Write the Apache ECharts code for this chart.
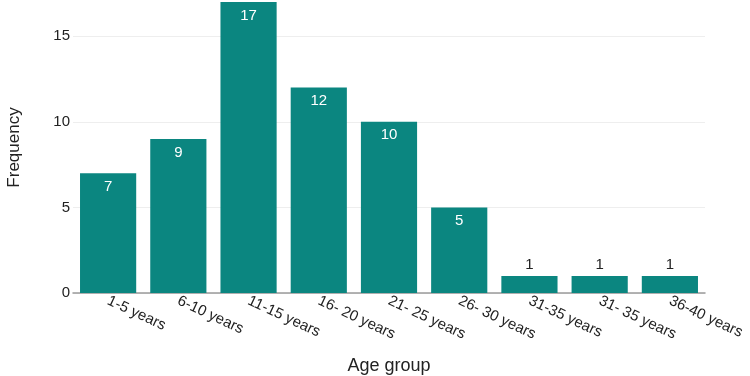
<!DOCTYPE html>
<html>
<head>
<meta charset="utf-8">
<script src="https://cdn.jsdelivr.net/npm/echarts@6/dist/echarts.min.js"></script>
<style>
  html, body {margin: 0; padding: 0; background: #fff;}
  #chart {width: 750px; height: 376px;}
</style>
</head>
<body>
<div id="chart"></div>
<script>
const ageGroups = ["1-5 years", "6-10 years", "11-15 years", "16- 20 years", "21- 25 years",
  "26- 30 years", "31-35 years", "31- 35 years", "36-40 years"];
const frequency = [7, 9, 17, 12, 10, 5, 1, 1, 1];
const yTicks = [0, 5, 10, 15];

const BAR_COLOR = "#0b8680";
const FONT = "Liberation Sans, Arial, sans-serif";

const chart = echarts.init(document.getElementById("chart"), null, {renderer: "canvas"});

// small bars get their label above, the rest inside near the top
const barData = frequency.map(v => ({
  value: v,
  label: v < 3
    ? {position: "top", color: "#222", distance: 4}
    : {position: "insideTop", color: "#fff", distance: 6},
}));

chart.setOption({
  animation: false,
  textStyle: {fontFamily: FONT},
  grid: {left: 73, right: 45, top: 2, bottom: 83, containLabel: false, outerBoundsMode: "none"},
  xAxis: {
    type: "category",
    data: ageGroups,
    name: "Age group",
    nameLocation: "middle",
    nameGap: 64,
    nameTextStyle: {fontSize: 18, color: "#222", fontFamily: FONT},
    axisLine: {lineStyle: {color: "#9a9a9a", width: 1.5}},
    axisTick: {show: false},
    axisLabel: {
      rotate: -25,
      interval: 0,
      margin: 7,
      fontSize: 15,
      color: "#222",
      fontFamily: FONT,
    },
  },
  yAxis: {
    type: "value",
    min: yTicks[0],
    max: 17,
    interval: yTicks[1] - yTicks[0],
    name: "Frequency",
    nameLocation: "middle",
    nameGap: 50,
    nameTextStyle: {fontSize: 17, color: "#222", fontFamily: FONT},
    axisLine: {show: false},
    axisTick: {show: false},
    axisLabel: {
      fontSize: 15,
      color: "#222",
      margin: 3,
      showMaxLabel: false,
      fontFamily: FONT,
      formatter: v => (yTicks.includes(v) ? String(v) : ""),
    },
    splitLine: {show: true, showMaxLine: false, lineStyle: {color: "#eeeeee", width: 1}},
  },
  series: [{
    type: "bar",
    data: barData,
    barCategoryGap: "20%",
    itemStyle: {color: BAR_COLOR},
    label: {show: true, fontSize: 15, fontFamily: FONT},
  }],
});
</script>
</body>
</html>
